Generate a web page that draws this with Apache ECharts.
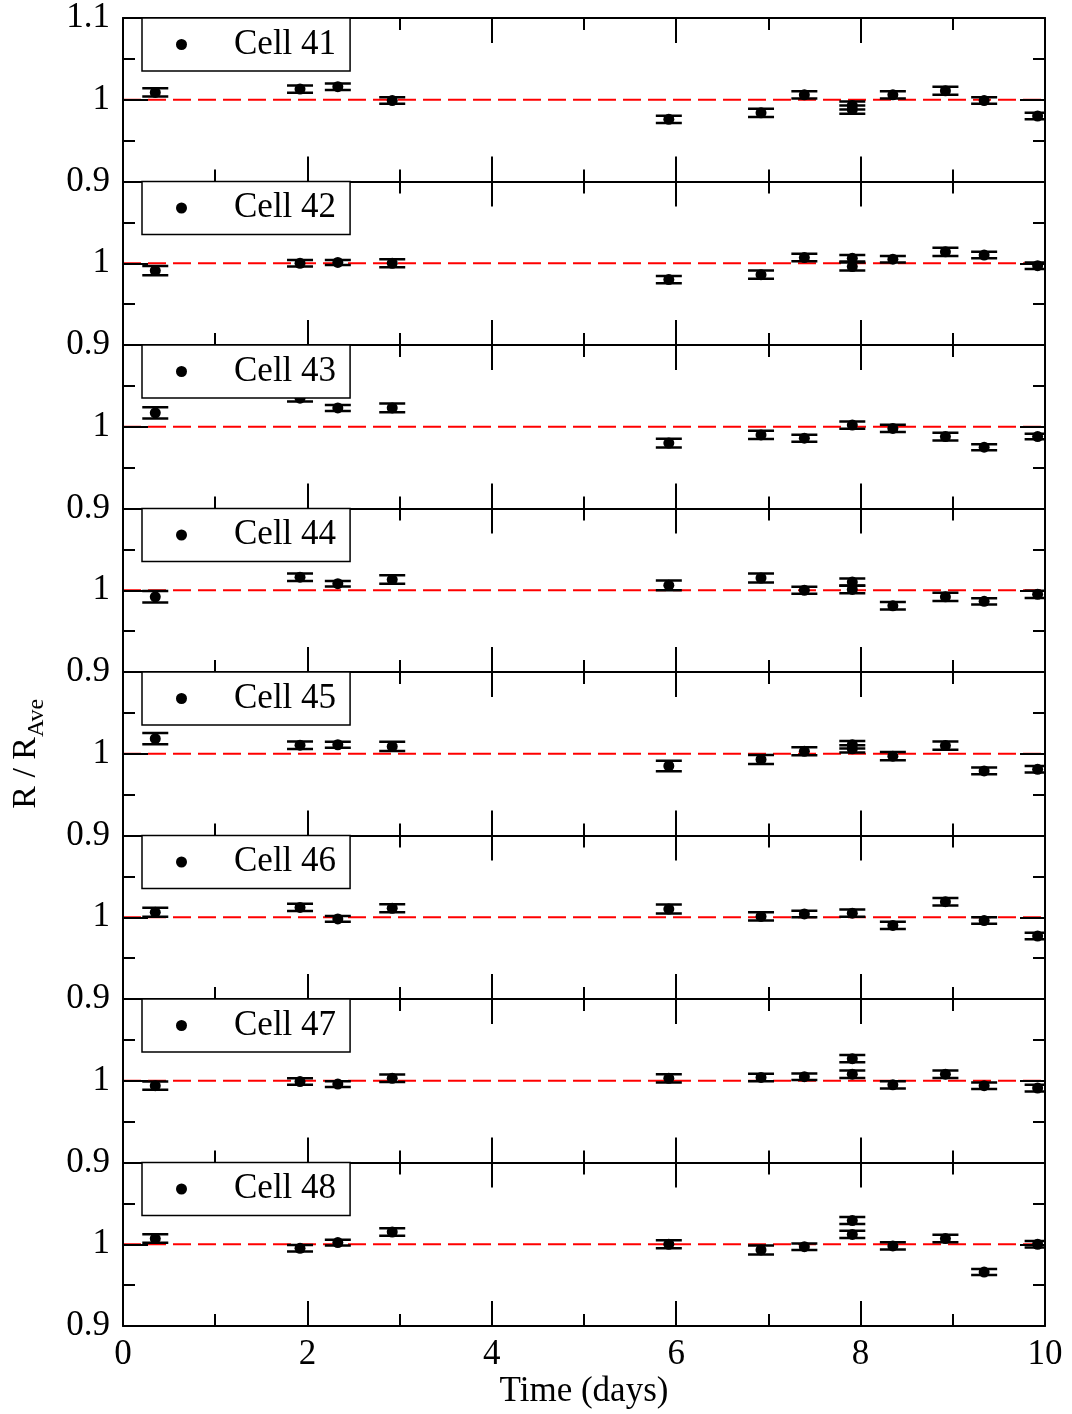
<!DOCTYPE html>
<html><head><meta charset="utf-8">
<script src="https://cdn.jsdelivr.net/npm/echarts@6/dist/echarts.min.js"></script>
<style>html,body{margin:0;padding:0;background:#fff}#c{width:1072px;height:1414px}</style>
</head><body><div id="c"></div>
<script>
// ---- data ----
const days = [0.35, 1.92, 2.33, 2.92, 5.92, 6.92, 7.39, 7.91, 7.91, 8.35, 8.92, 9.34, 9.92];
const cellNames = ['Cell 41', 'Cell 42', 'Cell 43', 'Cell 44', 'Cell 45', 'Cell 46', 'Cell 47', 'Cell 48'];
const cell41 = [1.009, 1.013, 1.016, 0.999, 0.976, 0.984, 1.006, 0.993, 0.988, 1.006, 1.011, 0.999, 0.980];
const err41  = [0.005, 0.0045, 0.004, 0.004, 0.0045, 0.005, 0.0045, 0.005, 0.005, 0.0045, 0.005, 0.004, 0.004];
const cell42 = [0.991, 1.000, 1.001, 1.000, 0.980, 0.986, 1.007, 1.006, 0.996, 1.005, 1.014, 1.010, 0.997];
const err42  = [0.0056, 0.004, 0.003, 0.005, 0.0045, 0.005, 0.0045, 0.004, 0.005, 0.004, 0.005, 0.004, 0.004];
const cell43 = [1.017, 1.035, 1.023, 1.023, 0.980, 0.990, 0.986, 1.002, null, 0.998, 0.988, 0.975, 0.988];
const err43  = [0.0069, 0.004, 0.0036, 0.0054, 0.0054, 0.005, 0.0042, 0.0044, null, 0.0044, 0.0048, 0.0036, 0.0034];
const cell44 = [0.992, 1.016, 1.008, 1.013, 1.006, 1.015, 1.000, 1.010, 1.001, 0.981, 0.992, 0.9865, 0.995];
const err44  = [0.007, 0.0046, 0.0034, 0.0052, 0.006, 0.0054, 0.0044, 0.0045, 0.0048, 0.0046, 0.005, 0.0038, 0.0044];
const cell45 = [1.0185, 1.0105, 1.011, 1.009, 0.985, 0.993, 1.003, 1.011, 1.006, 0.997, 1.010, 0.979, 0.981];
const err45  = [0.0069, 0.0046, 0.0038, 0.0056, 0.0065, 0.0056, 0.0048, 0.0045, 0.0045, 0.005, 0.005, 0.0042, 0.004];
const cell46 = [1.006, 1.012, 0.998, 1.011, 1.010, 1.001, 1.004, 1.005, null, 0.990, 1.019, 0.996, 0.977];
const err46  = [0.0055, 0.0045, 0.0035, 0.005, 0.0055, 0.005, 0.004, 0.0045, null, 0.0045, 0.0045, 0.004, 0.004];
const cell47 = [0.994, 0.999, 0.996, 1.003, 1.003, 1.004, 1.005, 1.027, 1.008, 0.995, 1.008, 0.994, 0.991];
const err47  = [0.005, 0.004, 0.0035, 0.0045, 0.005, 0.0045, 0.004, 0.0045, 0.0045, 0.0045, 0.0045, 0.004, 0.004];
const cell48 = [1.007, 0.995, 1.002, 1.015, 1.000, 0.993, 0.997, 1.029, 1.012, 0.998, 1.007, 0.966, 1.000];
const err48  = [0.0053, 0.004, 0.0035, 0.0045, 0.005, 0.0055, 0.004, 0.0043, 0.0045, 0.0045, 0.0045, 0.0037, 0.004];
const xTicks = [0, 2, 4, 6, 8, 10];
const yTicks = [0.9, 1, 1.1];
const refValue = 1;

// ---- layout / build ----
const cells = [cell41, cell42, cell43, cell44, cell45, cell46, cell47, cell48];
const errs = [err41, err42, err43, err44, err45, err46, err47, err48];
const FONT = '"Liberation Serif", "Times New Roman", serif';
const T0 = 18, H = 163.5, LEFT = 123, RIGHT = 27;
const N = cells.length;
const black = '#000';

const grid = [], xAxis = [], yAxis = [], series = [], legend = [];
for (let i = 0; i < N; i++) {
  grid.push({left: LEFT, right: RIGHT, top: T0 + i * H, height: H, containLabel: false, outerBoundsMode: 'none'});
  const tickCommon = {
    axisLine: {show: true, onZero: false, lineStyle: {color: black, width: 2}},
    axisTick: {show: true, inside: true, length: 25, lineStyle: {color: black, width: 2}},
    minorTick: {show: true, splitNumber: 2, length: 12, lineStyle: {color: black, width: 2}},
    splitLine: {show: false}, minorSplitLine: {show: false}, z: 3
  };
  xAxis.push(Object.assign({
    gridIndex: i, type: 'value', position: 'bottom',
    min: xTicks[0], max: xTicks[xTicks.length - 1], interval: xTicks[1] - xTicks[0],
    axisLabel: {show: i === N - 1, fontSize: 35, fontFamily: FONT, color: black, margin: 11},
    name: i === N - 1 ? 'Time (days)' : '', nameLocation: 'middle', nameGap: 48,
    nameTextStyle: {fontSize: 35, fontFamily: FONT, color: black}
  }, tickCommon));
  xAxis.push(Object.assign({
    gridIndex: i, type: 'value', position: 'top',
    min: xTicks[0], max: xTicks[xTicks.length - 1], interval: xTicks[1] - xTicks[0],
    axisLabel: {show: false}
  }, tickCommon));
  yAxis.push(Object.assign({
    gridIndex: i, type: 'value', position: 'left',
    min: yTicks[0], max: yTicks[yTicks.length - 1], interval: 0.1,
    axisLabel: {show: true, fontSize: 35, fontFamily: FONT, color: black, margin: 13,
      showMaxLabel: i === 0, showMinLabel: true},
    name: i === 4 ? '{a|R / R}{b|Ave}' : '', nameLocation: 'middle', nameRotate: 90, nameGap: 74,
    nameTextStyle: {fontFamily: FONT, color: black, rich: {
      a: {fontSize: 34, fontFamily: FONT, color: black, lineHeight: 40, verticalAlign: 'top'},
      b: {fontSize: 24, fontFamily: FONT, color: black, lineHeight: 24, padding: [28, 0, 0, 0], verticalAlign: 'bottom'}
    }}
  }, tickCommon));
  yAxis.push(Object.assign({
    gridIndex: i, type: 'value', position: 'right',
    min: yTicks[0], max: yTicks[yTicks.length - 1], interval: 0.1,
    axisLabel: {show: false}
  }, tickCommon));

  series.push({
    type: 'line', xAxisIndex: 2 * i, yAxisIndex: 2 * i, silent: true,
    data: [[xTicks[0], refValue], [xTicks[xTicks.length - 1], refValue]],
    symbol: 'none', lineStyle: {color: '#ff0000', width: 2, type: [18, 7]}, z: 1
  });
  const ebData = [];
  const ptData = [];
  cells[i].forEach((v, j) => {
    if (v == null) return;
    ebData.push([days[j], v, errs[i][j]]);
    ptData.push([days[j], v]);
  });
  series.push({
    type: 'custom', xAxisIndex: 2 * i, yAxisIndex: 2 * i, silent: true, clip: true, z: 2,
    data: ebData, encode: {x: 0, y: 1},
    renderItem: (params, api) => {
      const x = api.value(0), y = api.value(1), e = api.value(2);
      const t = api.coord([x, y + e]), b = api.coord([x, y - e]);
      const hw = 13;
      const st = {stroke: black, lineWidth: 2.5};
      return {type: 'group', children: [
        {type: 'line', shape: {x1: t[0], y1: t[1], x2: b[0], y2: b[1]}, style: st},
        {type: 'line', shape: {x1: t[0] - hw, y1: t[1], x2: t[0] + hw, y2: t[1]}, style: st},
        {type: 'line', shape: {x1: b[0] - hw, y1: b[1], x2: b[0] + hw, y2: b[1]}, style: st}
      ]};
    }
  });
  series.push({
    type: 'scatter', name: cellNames[i], xAxisIndex: 2 * i, yAxisIndex: 2 * i, z: 2,
    data: ptData, symbol: 'circle', symbolSize: 11, itemStyle: {color: black, opacity: 1}
  });
  legend.push({
    data: [cellNames[i]], left: 142, top: T0 + i * H, orient: 'horizontal',
    icon: 'circle', itemWidth: 11, itemHeight: 11, selectedMode: false,
    backgroundColor: '#fff', borderColor: black, borderWidth: 1.5, borderRadius: 0,
    padding: [9, 14, 9, 34], z: 4,
    itemStyle: {color: black, opacity: 1},
    textStyle: {fontSize: 35, fontFamily: FONT, color: black, lineHeight: 35, padding: [0, 0, 0, 42]}
  });
}

const chart = echarts.init(document.getElementById('c'), null, {renderer: 'canvas'});
chart.setOption({
  animation: false, backgroundColor: '#fff',
  grid, xAxis, yAxis, series, legend
});
</script></body></html>
